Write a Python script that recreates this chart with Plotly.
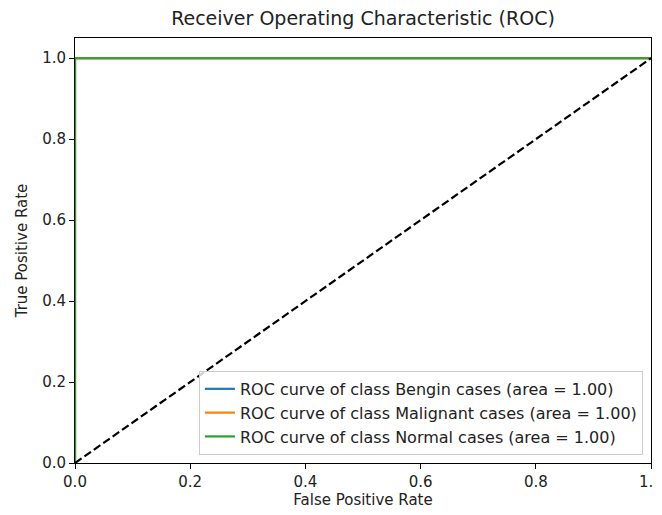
import plotly.graph_objects as go

class_names = ["Bengin cases", "Malignant cases", "Normal cases"]
fpr = {
    "Bengin cases": [0.0, 0.0, 1.0],
    "Malignant cases": [0.0, 0.0, 1.0],
    "Normal cases": [0.0, 0.0, 1.0],
}
tpr = {
    "Bengin cases": [0.0, 1.0, 1.0],
    "Malignant cases": [0.0, 1.0, 1.0],
    "Normal cases": [0.0, 1.0, 1.0],
}
auc_values = [1.00, 1.00, 1.00]
colors = ["#1f77b4", "#ff7f0e", "#2ca02c"]
diag_x = [0.0, 1.0]
diag_y = [0.0, 1.0]
tick_vals = [0.0, 0.2, 0.4, 0.6, 0.8, 1.0]
tick_text = ["0.0", "0.2", "0.4", "0.6", "0.8", "1.0"]

font_family = "DejaVu Sans, sans-serif"

# page body has an 8px margin, so the figure is sized to the visible area
W, H = 654, 507

fig = go.Figure()
for name, auc, col in zip(class_names, auc_values, colors):
    fig.add_trace(go.Scatter(
        x=fpr[name], y=tpr[name], mode="lines",
        line=dict(color=col, width=2.2),
        name=f"ROC curve of class {name} (area = {auc:.2f})",
    ))
fig.add_trace(go.Scatter(
    x=diag_x, y=diag_y, mode="lines",
    line=dict(color="black", width=2.2, dash="8px,3.5px"),
    showlegend=False,
))

axis_common = dict(
    showgrid=False, zeroline=False, showline=True, mirror=True,
    linecolor="black", linewidth=1, ticks="outside", ticklen=5,
    tickcolor="black", tickwidth=1, automargin=False,
    ticklabeloverflow="allow",
    tickfont=dict(size=15, color="#222", family=font_family),
    tickvals=tick_vals, ticktext=tick_text,
)

fig.update_layout(
    width=W, height=H,
    margin=dict(l=67, r=11, t=30, b=52),
    paper_bgcolor="white", plot_bgcolor="white",
    title=dict(text="Receiver Operating Characteristic (ROC)",
               x=0.5, xref="paper", xanchor="center",
               y=1 - 10 / H, yref="container", yanchor="middle",
               font=dict(size=19, color="#222", family=font_family)),
    xaxis=dict(range=[0, 1], title=dict(text="False Positive Rate", standoff=4,
               font=dict(size=15, color="#222", family=font_family)), **axis_common),
    yaxis=dict(range=[0, 1.05], title=dict(text="True Positive Rate", standoff=10,
               font=dict(size=15, color="#222", family=font_family)), **axis_common),
    legend=dict(x=0.986, y=0.019, xanchor="right", yanchor="bottom",
                bgcolor="rgba(255,255,255,0.8)", bordercolor="#cccccc", borderwidth=1,
                font=dict(size=16, color="#222", family=font_family),
                tracegroupgap=0),
    showlegend=True,
)

fig.write_html("out.html")
